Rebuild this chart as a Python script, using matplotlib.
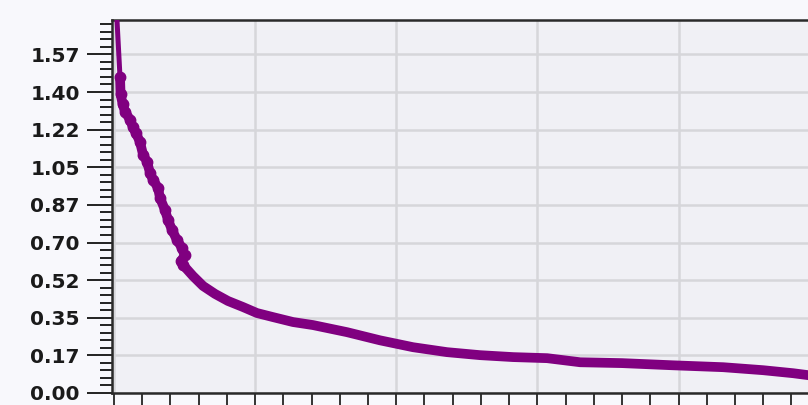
import matplotlib
matplotlib.use("Agg")
import matplotlib.pyplot as plt
from matplotlib.ticker import MultipleLocator, FixedLocator

# values
x_vals = [0.0, 4.3, 4.7, 6.2, 7.8, 11.3, 13.5, 15.4, 18.4, 20.6, 23.4, 25.5,
          27.6, 31.2, 32.6, 36.1, 38.3, 41.1, 44.6, 48.2, 50.0, 47.5, 48.9,
          56.0, 63.1, 71.6, 80.8, 91.4, 101.3, 112.7, 126.9, 141.0, 165.1,
          188.5, 211.9, 236.0, 259.4, 282.8, 306.9, 330.3, 360.0, 395.5,
          431.6, 460.0, 481.2, 491.8, 500.4]
y_vals = [2.00, 1.468, 1.389, 1.342, 1.309, 1.272, 1.235, 1.211, 1.169, 1.109,
          1.076, 1.025, 0.992, 0.955, 0.908, 0.852, 0.805, 0.759, 0.712, 0.675,
          0.640, 0.612, 0.596, 0.544, 0.498, 0.461, 0.428, 0.400, 0.372, 0.353,
          0.330, 0.316, 0.283, 0.245, 0.213, 0.190, 0.176, 0.167, 0.162, 0.143,
          0.139, 0.129, 0.120, 0.106, 0.092, 0.083, 0.074]

y_ticks = [0.0, 0.175, 0.35, 0.525, 0.70, 0.875, 1.05, 1.225, 1.40, 1.575]
y_labels = ["0.00", "0.17", "0.35", "0.52", "0.70", "0.87", "1.05", "1.22",
            "1.40", "1.57"]

W, H = 808, 405
fig = plt.figure(figsize=(W / 100, H / 100), dpi=100, facecolor="#f8f8fc")
# axes run past the right edge of the figure, as in the cropped reference
ax = fig.add_axes([111.7 / W, 12 / H, 708 / W, 373 / H])
ax.set_facecolor("#f0f0f5")

purple = "#800080"
ax.plot(x_vals, y_vals, color=purple, lw=3.6, marker="o", ms=7.5,
        mec=purple, mfc=purple, markevery=slice(1, 23), zorder=3)
ax.plot(x_vals[1:], y_vals[1:], color=purple, lw=7, zorder=3,
        solid_joinstyle="round", solid_capstyle="round")

ax.set_xlim(-1.6, 500)
ax.set_ylim(0, 1.735)

ax.xaxis.set_major_locator(MultipleLocator(100))
ax.xaxis.set_minor_locator(MultipleLocator(20))
ax.yaxis.set_major_locator(FixedLocator(y_ticks))
ax.yaxis.set_minor_locator(MultipleLocator(0.035))
ax.set_yticklabels(y_labels)
ax.set_xticklabels([])

ax.tick_params(axis="y", which="major", length=18, width=1.4, color="#222222",
               pad=5, labelsize=14.5)
ax.tick_params(axis="y", which="minor", length=8.5, width=1.4, color="#222222")
ax.tick_params(axis="x", which="both", direction="out", length=10, width=1.4,
               color="#333333")
for lab in ax.get_yticklabels():
    lab.set_fontweight("bold")
    lab.set_color("#1a1a1a")

ax.grid(True, which="major", color="#d6d6da", lw=1.8)
ax.set_axisbelow(True)

for side in ("left", "bottom", "top"):
    ax.spines[side].set_color("#2a2a2a")
    ax.spines[side].set_linewidth(1.8)
ax.spines["right"].set_visible(False)

fig.savefig("out.png", dpi=100, facecolor=fig.get_facecolor())
